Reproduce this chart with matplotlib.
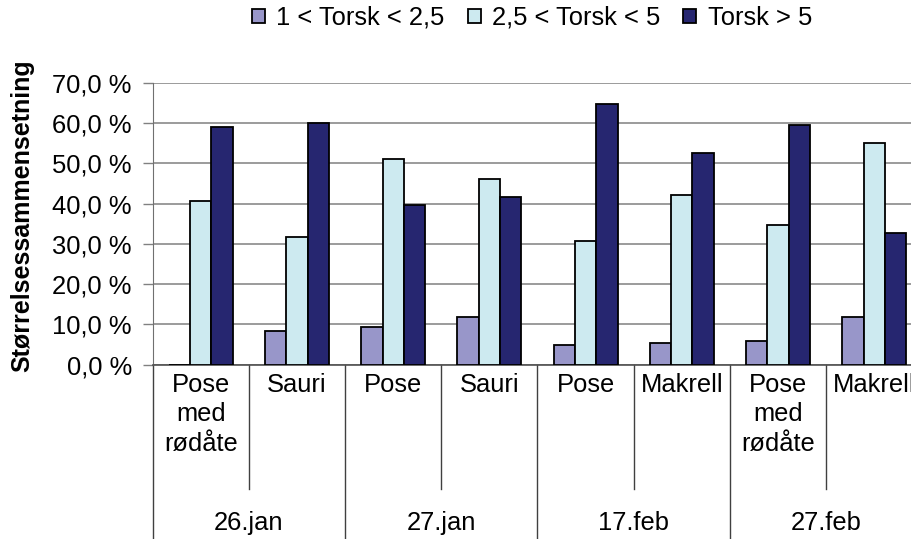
import matplotlib
matplotlib.use("Agg")
import matplotlib.pyplot as plt
import matplotlib.transforms as mtransforms
from matplotlib.patches import Patch

# data (percent)
gear = ["Pose\nmed\nrødåte", "Sauri", "Pose", "Sauri", "Pose", "Makrell", "Pose\nmed\nrødåte", "Makrell"]
dates = ["26.jan", "27.jan", "17.feb", "27.feb"]
series_names = ["1 < Torsk < 2,5", "2,5 < Torsk < 5", "Torsk > 5"]
small = [0.0, 8.4, 9.4, 11.9, 5.0, 5.4, 5.9, 11.9]
medium = [40.6, 31.8, 51.1, 46.2, 30.7, 42.2, 34.8, 55.1]
large = [59.1, 60.1, 39.7, 41.7, 64.6, 52.6, 59.6, 32.8]
yticks = [0, 10, 20, 30, 40, 50, 60, 70]

colors = ["#9896c9", "#cdeaf0", "#262670"]
fs = 18.4

plt.rcParams["font.family"] = ["Liberation Sans", "DejaVu Sans"]

W, H = 912, 539
fig = plt.figure(figsize=(W / 100, H / 100), dpi=100)

# plot area in pixels: left 152.7, zero line 364.7, top 82.7, 96.2 px per category
left, y0, ytop, cw = 152.7, 364.7, 82.7, 96.2
ax = fig.add_axes([left / W, (H - y0) / H, 8 * cw / W, (y0 - ytop) / H])

bw = 0.222
for k, vals in enumerate([small, medium, large]):
    xs = [i + 0.5 + (k - 1) * bw for i in range(len(gear))]
    ax.bar(xs, vals, width=bw, color=colors[k], edgecolor="black",
           linewidth=1.3, zorder=3)

ax.set_xlim(0, 8)
ax.set_ylim(0, 70)
ax.set_yticks(yticks)
ax.set_yticklabels([f"{v},0 %" for v in yticks], fontsize=fs)
ax.set_xticks([])
ax.tick_params(axis="y", length=7, color="#808080", width=1, pad=8)
ax.yaxis.grid(True, color="#808080", linewidth=1.1, zorder=0)
for s in ["top", "right"]:
    ax.spines[s].set_visible(False)
ax.spines["left"].set_color("#707070")
ax.spines["bottom"].set_color("#505050")
ax.spines["bottom"].set_linewidth(1.2)

trans = mtransforms.blended_transform_factory(ax.transData, ax.transAxes)

# two-level category axis
for i, g in enumerate(gear):
    ax.text(i + 0.5, -0.03, g, transform=trans, ha="center", va="top",
            fontsize=fs, linespacing=1.28)
for j, d in enumerate(dates):
    ax.text(2 * j + 1, -0.56, d, transform=trans, ha="center", va="center",
            fontsize=fs)
for i in range(9):
    bottom = -0.7 if i % 2 == 0 else -0.44
    ax.plot([i, i], [0, bottom], transform=trans, color="#404040",
            linewidth=1, clip_on=False)

fig.text(22 / W, 1 - 216 / H, "Størrelsessammensetning", rotation=90,
         ha="center", va="center", fontsize=18, fontweight="bold")

handles = [Patch(facecolor=c, edgecolor="black", linewidth=1.3) for c in colors]
fig.legend(handles, series_names, loc="center", bbox_to_anchor=(532 / W, 1 - 18 / H),
           ncol=3, frameon=False, fontsize=fs, handlelength=0.5, handleheight=0.5,
           handletextpad=0.45, columnspacing=0.9, borderpad=0)

fig.savefig("out.png", dpi=100)
